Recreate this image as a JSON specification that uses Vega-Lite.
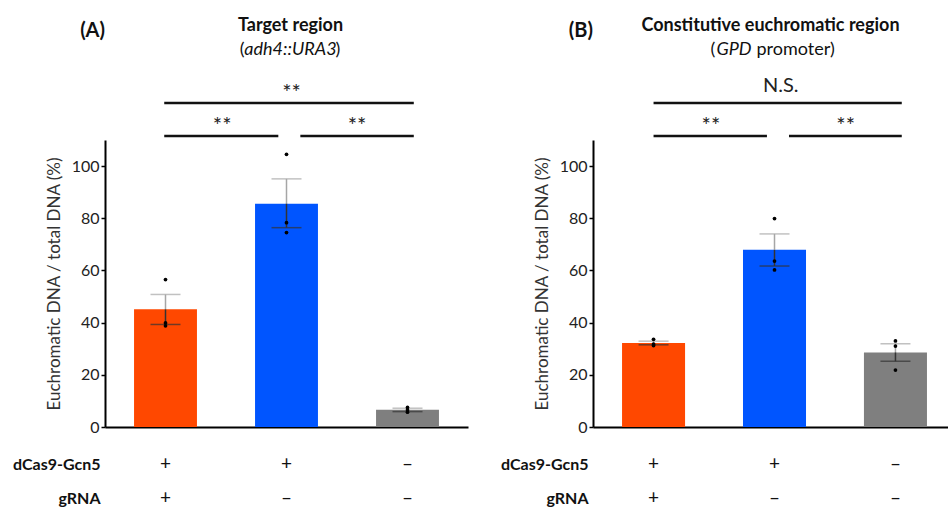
{
  "$schema": "https://vega.github.io/schema/vega-lite/v6.json",
  "background": "white",
  "padding": {"left": 12, "top": 16, "right": 0, "bottom": 0},
  "bounds": "flush",
  "spacing": 125,
  "config": {
    "font": "Lato",
    "view": {"stroke": null},
    "axisY": {"domainColor": "#000", "domainWidth": 2, "tickColor": "#000", "tickSize": 4, "tickWidth": 1.5, "labelFontSize": 16, "labelColor": "#222", "labelPadding": 2, "titleFontSize": 17, "titleFontWeight": "normal", "titleColor": "#333", "titlePadding": 8, "grid": false},
    "axisX": {"domainColor": "#000", "domainWidth": 2, "ticks": false, "labelAngle": 0, "labelFontSize": 19, "labelColor": "#111", "labelLineHeight": 34, "labelBaseline": "top", "labelPadding": 27, "titleFontSize": 16, "titleFontWeight": "bold", "titleColor": "#111", "titleAlign": "right", "titleAnchor": "start", "titleX": -5, "titleY": 29, "titleBaseline": "top", "titleLineHeight": 34, "titleAngle": 0}
  },
  "datasets": {
    "barsA": [
      {"g": "1", "mean": 45.1, "lo": 39.3, "hi": 50.8},
      {"g": "2", "mean": 85.6, "lo": 76.4, "hi": 95.1},
      {"g": "3", "mean": 6.6, "lo": 5.9, "hi": 7.2}
    ],
    "ptsA": [
      {"g": "1", "v": 56.5}, {"g": "1", "v": 39.9}, {"g": "1", "v": 38.8},
      {"g": "2", "v": 104.5}, {"g": "2", "v": 78.3}, {"g": "2", "v": 74.5},
      {"g": "3", "v": 7.5}, {"g": "3", "v": 6.5}, {"g": "3", "v": 5.7}
    ],
    "barsB": [
      {"g": "1", "mean": 32.2, "lo": 31.5, "hi": 32.9},
      {"g": "2", "mean": 67.9, "lo": 61.7, "hi": 74.0},
      {"g": "3", "mean": 28.6, "lo": 25.2, "hi": 31.9}
    ],
    "ptsB": [
      {"g": "1", "v": 33.6}, {"g": "1", "v": 31.8}, {"g": "1", "v": 31.2},
      {"g": "2", "v": 79.9}, {"g": "2", "v": 63.6}, {"g": "2", "v": 60.2},
      {"g": "3", "v": 33.0}, {"g": "3", "v": 31.0}, {"g": "3", "v": 21.8}
    ]
  },
  "hconcat": [
    {
      "width": 363,
      "height": 287,
      "title": {"text": "(A)", "anchor": "start", "frame": "group", "align": "right", "fontSize": 20, "fontWeight": "bold", "color": "#111", "offset": -34, "baseline": "middle"},
      "layer": [
        {
          "data": {"name": "barsA"},
          "mark": {"type": "bar"},
          "encoding": {
            "x": {"field": "g", "type": "nominal", "scale": {"paddingInner": 0.48, "paddingOuter": 0.24}, "axis": {"labelExpr": "datum.value == '1' ? ['+','+'] : datum.value == '2' ? ['+','–'] : ['–','–']"}, "title": ["dCas9-Gcn5", "gRNA"]},
            "y": {"field": "mean", "type": "quantitative", "scale": {"domain": [0, 110], "nice": false}, "axis": {"values": [0, 10, 20, 30, 40, 50, 60, 70, 80, 90, 100], "labelExpr": "datum.value % 20 == 0 ? datum.label : ''"}, "title": "Euchromatic DNA / total DNA (%)"},
            "color": {"field": "g", "type": "nominal", "scale": {"domain": ["1", "2", "3"], "range": ["#FF4800", "#0055FF", "#7F7F7F"]}, "legend": null}
          }
        },
        {"data": {"name": "barsA"}, "mark": {"type": "rule", "color": "#a6a6a6", "strokeWidth": 1.5}, "encoding": {"x": {"field": "g", "type": "nominal"}, "y": {"field": "mean", "type": "quantitative"}, "y2": {"field": "hi"}}},
        {"data": {"name": "barsA"}, "mark": {"type": "tick", "color": "#a6a6a6", "size": 30, "thickness": 1.5}, "encoding": {"x": {"field": "g", "type": "nominal"}, "y": {"field": "hi", "type": "quantitative"}}},
        {"data": {"name": "barsA"}, "mark": {"type": "rule", "color": "#333", "strokeWidth": 1.5}, "encoding": {"x": {"field": "g", "type": "nominal"}, "y": {"field": "lo", "type": "quantitative"}, "y2": {"field": "mean"}}},
        {"data": {"name": "barsA"}, "mark": {"type": "tick", "color": "#333", "size": 30, "thickness": 1.5}, "encoding": {"x": {"field": "g", "type": "nominal"}, "y": {"field": "lo", "type": "quantitative"}}},
        {"data": {"name": "ptsA"}, "mark": {"type": "circle", "color": "#000", "size": 14, "opacity": 1}, "encoding": {"x": {"field": "g", "type": "nominal"}, "y": {"field": "v", "type": "quantitative"}}},
        {"data": {"values": [{"a": "1", "b": "3", "y": 124.2}]}, "mark": {"type": "rule", "color": "#111", "strokeWidth": 2.5}, "encoding": {"x": {"field": "a", "type": "nominal", "bandPosition": 0.48}, "x2": {"field": "b", "bandPosition": 0.6}, "y": {"field": "y", "type": "quantitative"}}},
        {"data": {"values": [{"a": "1", "b": "2", "y": 111.5}]}, "mark": {"type": "rule", "color": "#111", "strokeWidth": 2.5}, "encoding": {"x": {"field": "a", "type": "nominal", "bandPosition": 0.48}, "x2": {"field": "b", "bandPosition": 0.37}, "y": {"field": "y", "type": "quantitative"}}},
        {"data": {"values": [{"a": "2", "b": "3", "y": 111.5}]}, "mark": {"type": "rule", "color": "#111", "strokeWidth": 2.5}, "encoding": {"x": {"field": "a", "type": "nominal", "bandPosition": 0.72}, "x2": {"field": "b", "bandPosition": 0.6}, "y": {"field": "y", "type": "quantitative"}}},
        {"data": {"values": [{"g": "2", "y": 128.2, "t": "**"}]}, "mark": {"type": "text", "fontSize": 22, "color": "#222", "baseline": "middle"}, "encoding": {"x": {"field": "g", "type": "nominal", "bandPosition": 0.58}, "y": {"field": "y", "type": "quantitative"}, "text": {"field": "t"}}},
        {"data": {"values": [{"g": "1", "y": 115.2, "t": "**"}]}, "mark": {"type": "text", "fontSize": 22, "color": "#222", "baseline": "middle"}, "encoding": {"x": {"field": "g", "type": "nominal", "bandPosition": 1.4}, "y": {"field": "y", "type": "quantitative"}, "text": {"field": "t"}}},
        {"data": {"values": [{"g": "2", "y": 115.2, "t": "**"}]}, "mark": {"type": "text", "fontSize": 22, "color": "#222", "baseline": "middle"}, "encoding": {"x": {"field": "g", "type": "nominal", "bandPosition": 1.62}, "y": {"field": "y", "type": "quantitative"}, "text": {"field": "t"}}},
        {"data": {"values": [{"g": "2", "y": 153.7, "t": "Target region"}]}, "mark": {"type": "text", "fontSize": 18, "fontWeight": "bold", "color": "#111", "baseline": "middle", "dx": 4}, "encoding": {"x": {"field": "g", "type": "nominal"}, "y": {"field": "y", "type": "quantitative"}, "text": {"field": "t"}}},
        {"data": {"values": [{"g": "2", "y": 144.6, "t": "adh4::URA3"}]}, "mark": {"type": "text", "fontSize": 18, "fontStyle": "italic", "color": "#111", "baseline": "middle", "dx": 4}, "encoding": {"x": {"field": "g", "type": "nominal"}, "y": {"field": "y", "type": "quantitative"}, "text": {"field": "t"}}},
        {"data": {"values": [{"g": "2", "y": 144.6, "t": "("}]}, "mark": {"type": "text", "fontSize": 18, "color": "#111", "baseline": "middle", "align": "right", "dx": -42}, "encoding": {"x": {"field": "g", "type": "nominal"}, "y": {"field": "y", "type": "quantitative"}, "text": {"field": "t"}}},
        {"data": {"values": [{"g": "2", "y": 144.6, "t": ")"}]}, "mark": {"type": "text", "fontSize": 18, "color": "#111", "baseline": "middle", "align": "left", "dx": 49}, "encoding": {"x": {"field": "g", "type": "nominal"}, "y": {"field": "y", "type": "quantitative"}, "text": {"field": "t"}}}
      ]
    },
    {
      "width": 355,
      "height": 287,
      "title": {"text": "(B)", "anchor": "start", "frame": "group", "align": "right", "fontSize": 20, "fontWeight": "bold", "color": "#111", "offset": -34, "baseline": "middle"},
      "layer": [
        {
          "data": {"name": "barsB"},
          "mark": {"type": "bar"},
          "encoding": {
            "x": {"field": "g", "type": "nominal", "scale": {"paddingInner": 0.479, "paddingOuter": 0.207, "align": 0.58}, "axis": {"labelExpr": "datum.value == '1' ? ['+','+'] : datum.value == '2' ? ['+','–'] : ['–','–']"}, "title": ["dCas9-Gcn5", "gRNA"]},
            "y": {"field": "mean", "type": "quantitative", "scale": {"domain": [0, 110], "nice": false}, "axis": {"values": [0, 10, 20, 30, 40, 50, 60, 70, 80, 90, 100], "labelExpr": "datum.value % 20 == 0 ? datum.label : ''"}, "title": "Euchromatic DNA / total DNA (%)"},
            "color": {"field": "g", "type": "nominal", "scale": {"domain": ["1", "2", "3"], "range": ["#FF4800", "#0055FF", "#7F7F7F"]}, "legend": null}
          }
        },
        {"data": {"name": "barsB"}, "mark": {"type": "rule", "color": "#a6a6a6", "strokeWidth": 1.5}, "encoding": {"x": {"field": "g", "type": "nominal"}, "y": {"field": "mean", "type": "quantitative"}, "y2": {"field": "hi"}}},
        {"data": {"name": "barsB"}, "mark": {"type": "tick", "color": "#a6a6a6", "size": 30, "thickness": 1.5}, "encoding": {"x": {"field": "g", "type": "nominal"}, "y": {"field": "hi", "type": "quantitative"}}},
        {"data": {"name": "barsB"}, "mark": {"type": "rule", "color": "#333", "strokeWidth": 1.5}, "encoding": {"x": {"field": "g", "type": "nominal"}, "y": {"field": "lo", "type": "quantitative"}, "y2": {"field": "mean"}}},
        {"data": {"name": "barsB"}, "mark": {"type": "tick", "color": "#333", "size": 30, "thickness": 1.5}, "encoding": {"x": {"field": "g", "type": "nominal"}, "y": {"field": "lo", "type": "quantitative"}}},
        {"data": {"name": "ptsB"}, "mark": {"type": "circle", "color": "#000", "size": 14, "opacity": 1}, "encoding": {"x": {"field": "g", "type": "nominal"}, "y": {"field": "v", "type": "quantitative"}}},
        {"data": {"values": [{"a": "1", "b": "3", "y": 124.2}]}, "mark": {"type": "rule", "color": "#111", "strokeWidth": 2.5}, "encoding": {"x": {"field": "a", "type": "nominal", "bandPosition": 0.5}, "x2": {"field": "b", "bandPosition": 0.6}, "y": {"field": "y", "type": "quantitative"}}},
        {"data": {"values": [{"a": "1", "b": "2", "y": 111.5}]}, "mark": {"type": "rule", "color": "#111", "strokeWidth": 2.5}, "encoding": {"x": {"field": "a", "type": "nominal", "bandPosition": 0.5}, "x2": {"field": "b", "bandPosition": 0.38}, "y": {"field": "y", "type": "quantitative"}}},
        {"data": {"values": [{"a": "2", "b": "3", "y": 111.5}]}, "mark": {"type": "rule", "color": "#111", "strokeWidth": 2.5}, "encoding": {"x": {"field": "a", "type": "nominal", "bandPosition": 0.73}, "x2": {"field": "b", "bandPosition": 0.6}, "y": {"field": "y", "type": "quantitative"}}},
        {"data": {"values": [{"g": "2", "y": 130.7, "t": "N.S."}]}, "mark": {"type": "text", "fontSize": 20, "color": "#222", "baseline": "middle"}, "encoding": {"x": {"field": "g", "type": "nominal", "bandPosition": 0.6}, "y": {"field": "y", "type": "quantitative"}, "text": {"field": "t"}}},
        {"data": {"values": [{"g": "1", "y": 115.2, "t": "**"}]}, "mark": {"type": "text", "fontSize": 22, "color": "#222", "baseline": "middle"}, "encoding": {"x": {"field": "g", "type": "nominal", "bandPosition": 1.41}, "y": {"field": "y", "type": "quantitative"}, "text": {"field": "t"}}},
        {"data": {"values": [{"g": "2", "y": 115.2, "t": "**"}]}, "mark": {"type": "text", "fontSize": 22, "color": "#222", "baseline": "middle"}, "encoding": {"x": {"field": "g", "type": "nominal", "bandPosition": 1.63}, "y": {"field": "y", "type": "quantitative"}, "text": {"field": "t"}}},
        {"data": {"values": [{"g": "2", "y": 153.7, "t": "Constitutive euchromatic region"}]}, "mark": {"type": "text", "fontSize": 18, "fontWeight": "bold", "color": "#111", "baseline": "middle", "dx": -4}, "encoding": {"x": {"field": "g", "type": "nominal"}, "y": {"field": "y", "type": "quantitative"}, "text": {"field": "t"}}},
        {"data": {"values": [{"g": "2", "y": 144.6, "t": "("}]}, "mark": {"type": "text", "fontSize": 18, "color": "#111", "baseline": "middle", "align": "left", "dx": -64}, "encoding": {"x": {"field": "g", "type": "nominal"}, "y": {"field": "y", "type": "quantitative"}, "text": {"field": "t"}}},
        {"data": {"values": [{"g": "2", "y": 144.6, "t": "GPD"}]}, "mark": {"type": "text", "fontSize": 18, "fontStyle": "italic", "color": "#111", "baseline": "middle", "align": "left", "dx": -58}, "encoding": {"x": {"field": "g", "type": "nominal"}, "y": {"field": "y", "type": "quantitative"}, "text": {"field": "t"}}},
        {"data": {"values": [{"g": "2", "y": 144.6, "t": "promoter)"}]}, "mark": {"type": "text", "fontSize": 18, "color": "#111", "baseline": "middle", "align": "left", "dx": -18}, "encoding": {"x": {"field": "g", "type": "nominal"}, "y": {"field": "y", "type": "quantitative"}, "text": {"field": "t"}}}
      ]
    }
  ]
}
